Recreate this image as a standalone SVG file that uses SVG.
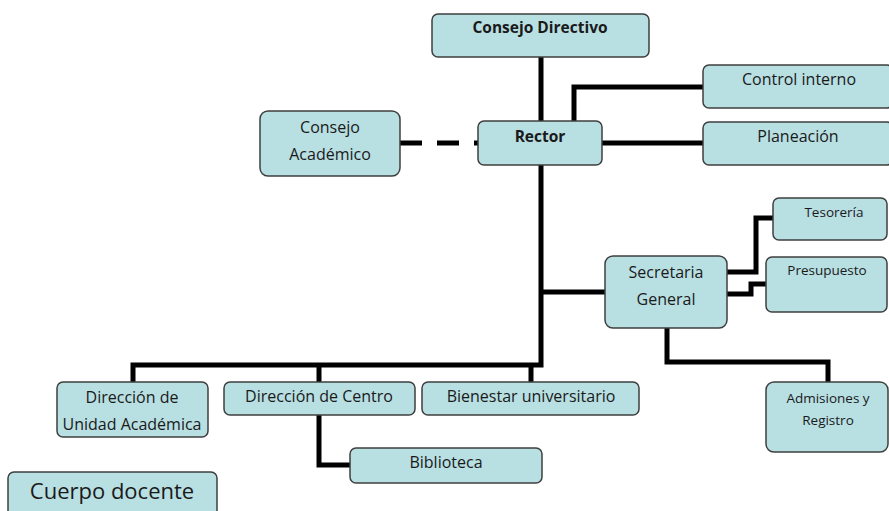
<svg xmlns="http://www.w3.org/2000/svg" width="889" height="511" viewBox="0 0 889 511">
<style>
.box{fill:#b8dfe2;stroke:#3f3f3f;stroke-width:1.5}
.t{font-family:"Open Sans","Liberation Sans",sans-serif;font-size:16px;fill:#1a1a1a;text-anchor:middle}
.b{font-weight:bold;font-size:15.5px}
.s{font-size:13.5px}
.c{fill:none;stroke:#000;stroke-width:5}
</style>
<rect width="889" height="511" fill="#fff"/>
<g id="connectors">
<path class="c" d="M541,57V365H133V382"/>
<path class="c" d="M319,365V465H350"/>
<path class="c" d="M531,365V382"/>
<path class="c" d="M574,121V87H703"/>
<path class="c" d="M602,143H703"/>
<path class="c" d="M400,143H478" stroke-dasharray="22,15"/>
<path class="c" d="M541,292H605"/>
<path class="c" d="M727,272H756V218H773"/>
<path class="c" d="M727,294H751V284H766"/>
<path class="c" d="M667,328V362H828V382"/>
</g>
<g id="consejo-directivo"><rect class="box" x="432" y="14" width="217" height="43" rx="6"/><text class="t b" x="540" y="33">Consejo Directivo</text></g>
<g id="rector"><rect class="box" x="478" y="121" width="124" height="44" rx="6"/><text class="t b" x="540" y="142">Rector</text></g>
<g id="consejo-academico"><rect class="box" x="260" y="111" width="140" height="65" rx="8"/><text class="t" x="330" y="133">Consejo</text><text class="t" x="330" y="160">Académico</text></g>
<g id="control-interno"><rect class="box" x="703" y="65" width="190" height="43" rx="6"/><text class="t" x="799" y="85">Control interno</text></g>
<g id="planeacion"><rect class="box" x="703" y="122" width="190" height="43" rx="6"/><text class="t" x="798" y="142">Planeación</text></g>
<g id="secretaria-general"><rect class="box" x="605" y="256" width="122" height="72" rx="8"/><text class="t" x="666" y="278">Secretaria</text><text class="t" x="666" y="305">General</text></g>
<g id="tesoreria"><rect class="box" x="773" y="198" width="114" height="42" rx="6"/><text class="t s" x="834" y="217">Tesorería</text></g>
<g id="presupuesto"><rect class="box" x="766" y="257" width="121" height="55" rx="6"/><text class="t s" x="827" y="275">Presupuesto</text></g>
<g id="admisiones"><rect class="box" x="766" y="382" width="122" height="70" rx="8"/><text class="t s" x="828" y="403">Admisiones y</text><text class="t s" x="828" y="425">Registro</text></g>
<g id="direccion-unidad"><rect class="box" x="57" y="382" width="151" height="55" rx="6"/><text class="t" x="132" y="403">Dirección de</text><text class="t" x="132" y="430">Unidad Académica</text></g>
<g id="direccion-centro"><rect class="box" x="224" y="382" width="191" height="33" rx="6"/><text class="t" x="319" y="402">Dirección de Centro</text></g>
<g id="bienestar"><rect class="box" x="422" y="382" width="217" height="33" rx="6"/><text class="t" x="531" y="402">Bienestar universitario</text></g>
<g id="biblioteca"><rect class="box" x="350" y="448" width="192" height="35" rx="6"/><text class="t" x="446" y="468">Biblioteca</text></g>
<g id="cuerpo-docente"><rect class="box" x="8" y="472" width="209" height="45" rx="6"/><text class="t" x="112" y="499" style="font-size:22px">Cuerpo docente</text></g>
</svg>
